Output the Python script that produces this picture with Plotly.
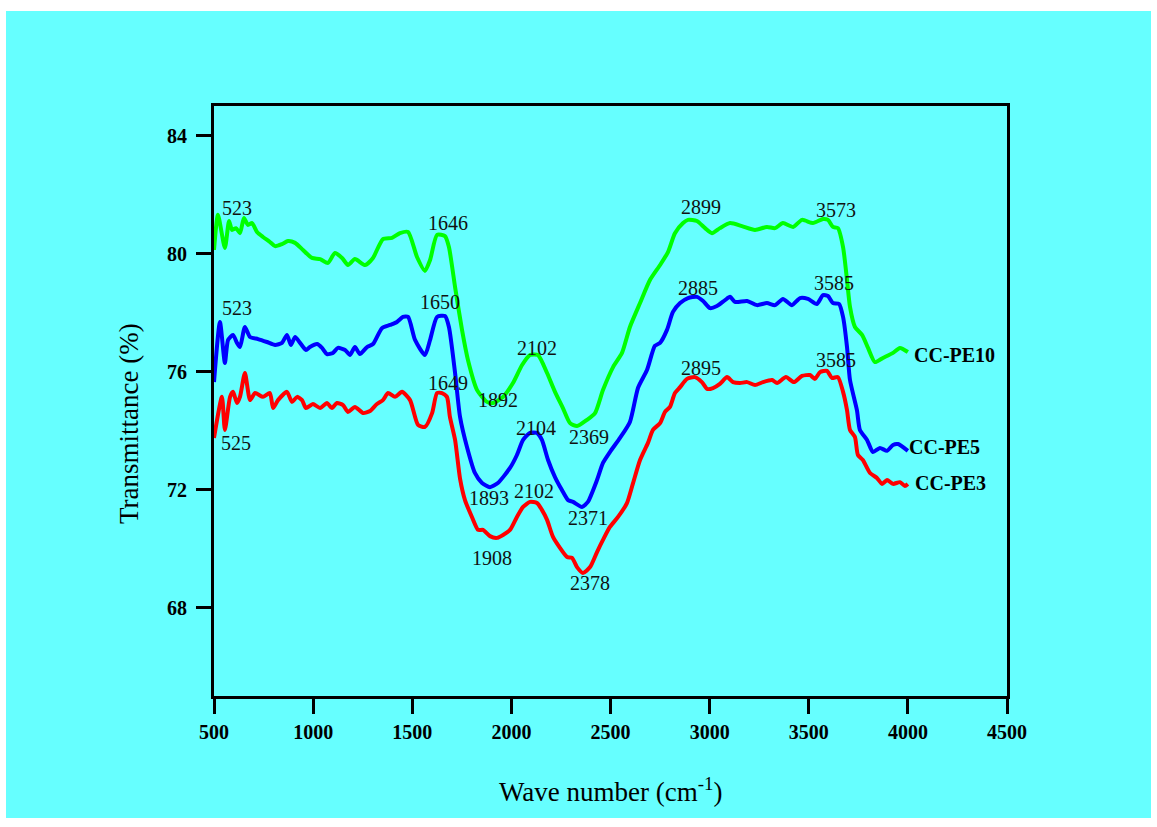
import plotly.graph_objects as go

# ---------------- data ----------------
pe10_wn = [500, 520, 555, 576, 591, 611, 631, 651, 671, 692, 717, 747, 782, 808, 843, 873, 909, 949,
           994, 1035, 1075, 1110, 1146, 1176, 1211, 1262, 1302, 1352, 1398, 1438, 1479, 1524, 1564,
           1590, 1625, 1665, 1685, 1716, 1751, 1781, 1827, 1877, 1907, 1958, 2008, 2054, 2094, 2134,
           2180, 2220, 2260, 2296, 2331, 2381, 2422, 2462, 2513, 2558, 2598, 2649, 2699, 2750, 2790,
           2825, 2866, 2891, 2936, 2977, 3012, 3052, 3103, 3163, 3229, 3289, 3330, 3370, 3421, 3466,
           3521, 3572, 3597, 3622, 3647, 3673, 3693, 3708, 3733, 3769, 3799, 3834, 3874, 3925, 3960, 4000]
pe10_t = [80.12, 81.31, 80.19, 81.10, 80.80, 80.86, 80.69, 81.20, 80.97, 81.03, 80.73, 80.56, 80.39,
          80.25, 80.32, 80.42, 80.36, 80.12, 79.85, 79.81, 79.68, 80.02, 79.85, 79.61, 79.81, 79.61,
          79.85, 80.49, 80.53, 80.69, 80.73, 79.88, 79.41, 79.78, 80.63, 80.59, 80.22, 78.86, 77.41,
          76.39, 75.37, 74.97, 74.93, 75.14, 75.61, 76.22, 76.56, 76.56, 75.95, 75.31, 74.76, 74.25,
          74.15, 74.36, 74.59, 75.37, 76.15, 76.63, 77.51, 78.32, 79.10, 79.61, 80.05, 80.69, 81.03,
          81.14, 81.10, 80.86, 80.69, 80.86, 81.03, 80.93, 80.80, 80.90, 80.86, 81.03, 80.90, 81.14,
          81.03, 81.17, 81.14, 80.90, 80.86, 80.22, 79.10, 78.19, 77.51, 77.24, 76.80, 76.32, 76.46,
          76.63, 76.80, 76.66]

pe5_wn = [500, 530, 555, 571, 596, 616, 631, 656, 682, 722, 767, 808, 843, 868, 888, 909, 934, 964,
          984, 1020, 1045, 1070, 1100, 1125, 1161, 1186, 1211, 1236, 1272, 1302, 1347, 1388, 1423,
          1453, 1479, 1514, 1564, 1590, 1625, 1665, 1685, 1716, 1741, 1776, 1816, 1852, 1892, 1932,
          1993, 2028, 2059, 2094, 2129, 2154, 2185, 2220, 2255, 2286, 2311, 2356, 2386, 2432, 2462,
          2497, 2548, 2598, 2639, 2684, 2724, 2750, 2785, 2815, 2851, 2891, 2936, 2967, 3002, 3037,
          3078, 3103, 3128, 3189, 3239, 3289, 3330, 3370, 3415, 3456, 3496, 3541, 3572, 3597, 3622,
          3653, 3673, 3693, 3708, 3743, 3758, 3794, 3824, 3859, 3895, 3925, 3950, 4000]
pe5_t = [75.64, 77.68, 76.29, 77.07, 77.24, 76.97, 76.83, 77.51, 77.17, 77.10, 77.00, 76.90, 76.97,
         77.24, 76.90, 77.17, 76.97, 76.73, 76.83, 76.93, 76.80, 76.59, 76.63, 76.80, 76.73, 76.56,
         76.83, 76.59, 76.83, 76.93, 77.47, 77.58, 77.68, 77.85, 77.85, 77.07, 76.56, 77.07, 77.85,
         77.88, 77.51, 75.95, 74.46, 73.44, 72.56, 72.22, 72.08, 72.22, 72.73, 73.17, 73.68, 73.92,
         73.92, 73.68, 73.00, 72.42, 71.98, 71.64, 71.58, 71.41, 71.58, 72.32, 72.90, 73.27, 73.75,
         74.29, 75.45, 76.05, 76.87, 76.97, 77.41, 78.02, 78.32, 78.49, 78.53, 78.39, 78.15, 78.22,
         78.42, 78.53, 78.36, 78.39, 78.25, 78.32, 78.25, 78.46, 78.25, 78.49, 78.46, 78.29, 78.59,
         78.56, 78.32, 78.29, 77.85, 76.83, 75.71, 74.69, 74.02, 73.68, 73.27, 73.41, 73.31, 73.51,
         73.54, 73.31]

pe3_wn = [500, 540, 555, 581, 596, 616, 631, 656, 682, 707, 747, 782, 798, 823, 868, 893, 919, 944,
          964, 999, 1035, 1070, 1095, 1120, 1151, 1176, 1211, 1252, 1287, 1322, 1352, 1378, 1413,
          1448, 1489, 1529, 1564, 1600, 1625, 1650, 1675, 1690, 1716, 1741, 1766, 1801, 1832, 1857,
          1892, 1927, 1958, 1993, 2028, 2059, 2094, 2129, 2154, 2180, 2210, 2245, 2281, 2306, 2331,
          2361, 2397, 2432, 2462, 2497, 2538, 2583, 2613, 2649, 2689, 2714, 2750, 2775, 2800, 2825,
          2851, 2886, 2926, 2961, 2987, 3017, 3052, 3088, 3118, 3153, 3189, 3229, 3269, 3315, 3340,
          3385, 3425, 3466, 3506, 3531, 3557, 3592, 3617, 3647, 3673, 3693, 3708, 3733, 3748, 3773,
          3809, 3844, 3870, 3895, 3925, 3960, 3985, 4000]
pe3_t = [73.75, 75.14, 74.02, 75.14, 75.31, 74.93, 75.14, 75.95, 75.03, 75.27, 75.14, 75.27, 74.76,
         75.03, 75.31, 74.97, 75.14, 75.03, 74.76, 74.90, 74.76, 74.93, 74.76, 74.93, 74.86, 74.63,
         74.80, 74.59, 74.66, 74.90, 75.03, 75.27, 75.14, 75.31, 75.03, 74.19, 74.12, 74.59, 75.27,
         75.27, 75.14, 74.46, 73.68, 72.37, 71.64, 71.07, 70.63, 70.63, 70.42, 70.36, 70.46, 70.63,
         71.07, 71.41, 71.58, 71.54, 71.31, 70.97, 70.39, 70.02, 69.71, 69.68, 69.37, 69.17, 69.37,
         69.88, 70.29, 70.73, 71.07, 71.54, 72.20, 73.00, 73.58, 74.02, 74.25, 74.63, 74.80, 75.27,
         75.47, 75.75, 75.81, 75.64, 75.41, 75.44, 75.58, 75.81, 75.64, 75.61, 75.64, 75.54, 75.64,
         75.71, 75.61, 75.81, 75.64, 75.85, 75.88, 75.75, 75.98, 76.02, 75.78, 75.81, 75.31, 74.69,
         74.02, 73.78, 73.17, 73.00, 72.56, 72.39, 72.19, 72.32, 72.19, 72.25, 72.12, 72.19]

# peak labels: (text, x, y)
pe10_peaks = [("523", 616, 81.54), ("1646", 1680, 81.03), ("1892", 1932, 75.03), ("2102", 2129, 76.80),
              ("2369", 2392, 73.78), ("2899", 2956, 81.58), ("3573", 3637, 81.47)]
pe5_peaks = [("523", 616, 78.15), ("1650", 1640, 78.36), ("1893", 1887, 71.71), ("2104", 2124, 74.08),
             ("2371", 2386, 71.03), ("2885", 2941, 78.83), ("3585", 3627, 79.00)]
pe3_peaks = [("525", 611, 73.58), ("1649", 1680, 75.61), ("1908", 1902, 69.68), ("2102", 2114, 71.95),
             ("2378", 2397, 68.83), ("2895", 2956, 76.12), ("3585", 3637, 76.39)]

series_names = ["CC-PE10", "CC-PE5", "CC-PE3"]
series_label_pos = [(4021, 76.56), (3996, 73.44), (4026, 72.22)]

x_ticks = [500, 1000, 1500, 2000, 2500, 3000, 3500, 4000, 4500]
y_ticks = [68, 72, 76, 80, 84]

# ---------------- figure ----------------
FONT = "Liberation Serif, Times New Roman, serif"
BG = "#66FFFF"

fig = go.Figure()
for wn, t, col, name in [(pe10_wn, pe10_t, "#00FF00", series_names[0]),
                         (pe5_wn, pe5_t, "#0000FF", series_names[1]),
                         (pe3_wn, pe3_t, "#FF0000", series_names[2])]:
    fig.add_trace(go.Scatter(x=wn, y=t, mode="lines", name=name,
                             line=dict(color=col, width=4, shape="spline", smoothing=0.6),
                             showlegend=False))

annotations = []
for peaks in (pe10_peaks, pe5_peaks, pe3_peaks):
    for txt, x, y in peaks:
        annotations.append(dict(x=x, y=y, xref="x", yref="y", text=txt, showarrow=False,
                                xanchor="center", yanchor="middle",
                                font=dict(family=FONT, size=20, color="#111111")))
for name, (x, y) in zip(series_names, series_label_pos):
    annotations.append(dict(x=x, y=y, xref="x", yref="y", text="<b>" + name + "</b>", showarrow=False,
                            xanchor="left", yanchor="middle",
                            font=dict(family=FONT, size=20, color="black")))
# axis titles
annotations.append(dict(x=0.5, y=-0.1593, xref="paper", yref="paper",
                        text="Wave number (cm<sup>-1</sup>)", showarrow=False,
                        xanchor="center", yanchor="middle",
                        font=dict(family=FONT, size=27, color="black")))
annotations.append(dict(x=-0.1072, y=0.4627, xref="paper", yref="paper",
                        text="Transmittance (%)", showarrow=False, textangle=-90,
                        xanchor="center", yanchor="middle",
                        font=dict(family=FONT, size=27, color="black")))

fig.update_layout(
    width=1157, height=827,
    margin=dict(l=214, r=150, t=106, b=131),
    paper_bgcolor="white",
    plot_bgcolor=BG,
    annotations=annotations,
    shapes=[dict(type="rect", xref="paper", yref="paper", x0=-0.2623, x1=1.1816, y0=-0.2068, y1=1.161,
                 fillcolor=BG, line=dict(width=0), layer="below")],
)
fig.update_xaxes(range=[500, 4500], tickvals=x_ticks, ticktext=[str(v) for v in x_ticks],
                 showgrid=False, zeroline=False, showline=True, linecolor="black", linewidth=3,
                 mirror=True, ticks="outside", ticklen=15, tickwidth=3, tickcolor="black",
                 ticklabelstandoff=1,
                 tickfont=dict(family=FONT, size=20, color="black", weight="bold"))
fig.update_yaxes(range=[65, 85], tickvals=y_ticks, ticktext=[str(v) for v in y_ticks],
                 showgrid=False, zeroline=False, showline=True, linecolor="black", linewidth=3,
                 mirror=True, ticks="outside", ticklen=15, tickwidth=3, tickcolor="black",
                 ticklabelstandoff=5,
                 tickfont=dict(family=FONT, size=20, color="black", weight="bold"))

fig.write_html("out.html")
